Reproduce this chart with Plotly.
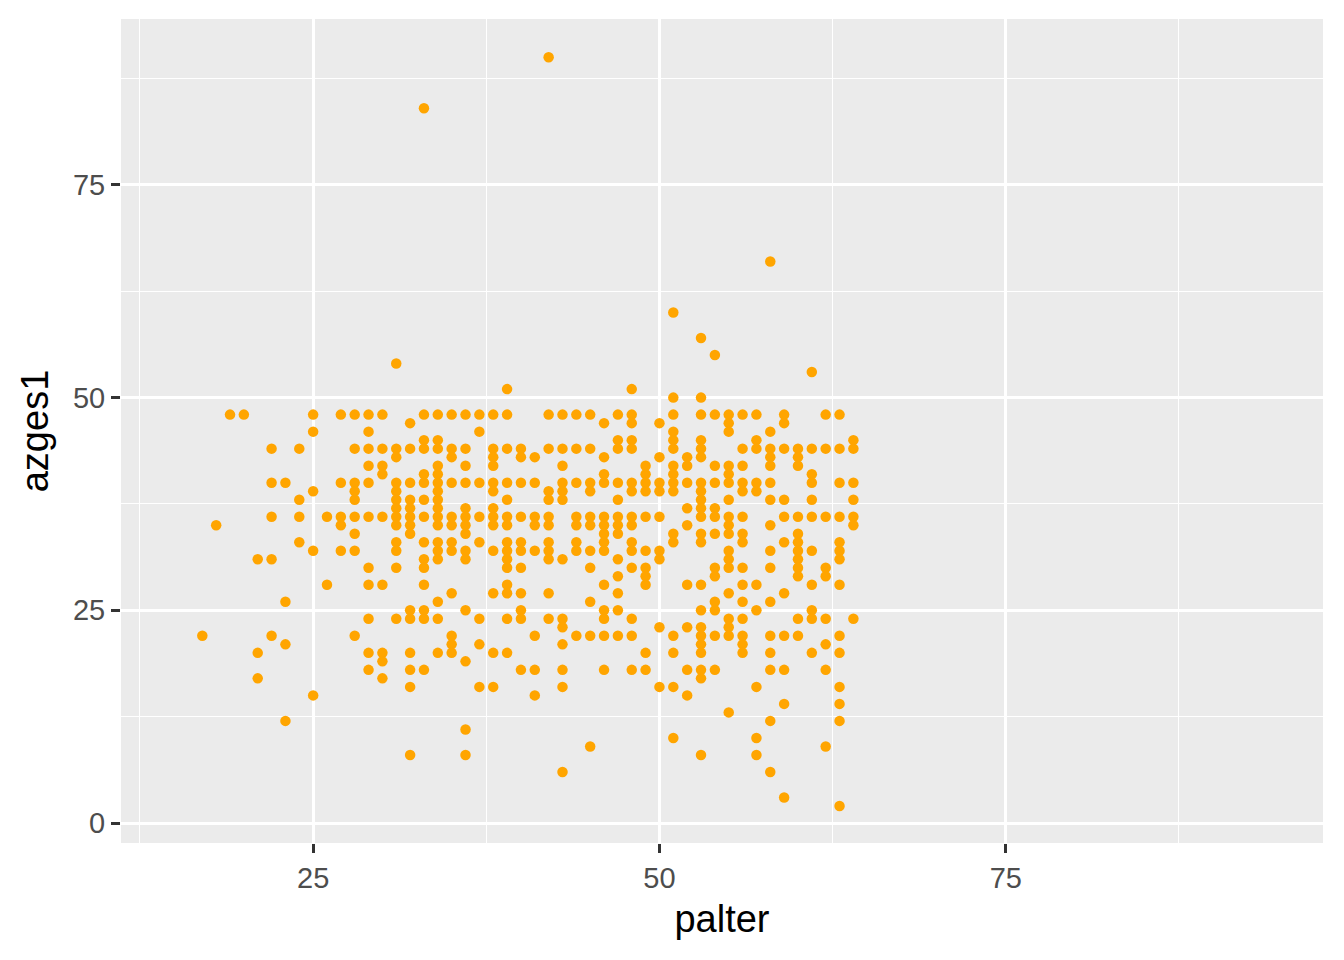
import plotly.graph_objects as go

# palter values observed at each azges1 level
row_90 = [42]
row_84 = [33]
row_66 = [58]
row_60 = [51]
row_57 = [53]
row_55 = [54]
row_54 = [31]
row_53 = [61]
row_51 = [39, 48]
row_50 = [51, 53]
row_48 = [19, 20, 25, 27, 28, 29, 30, 33, 34, 35, 36, 37, 38, 39, 42, 43, 44, 45, 47, 48,
          51, 53, 54, 55, 56, 57, 59, 62, 63]
row_47 = [32, 46, 48, 50, 55, 59]
row_46 = [25, 29, 37, 51, 55, 58]
row_45 = [33, 34, 47, 48, 51, 53, 57, 64]
row_44 = [22, 24, 28, 29, 30, 31, 32, 33, 34, 35, 36, 38, 39, 40, 42, 43, 44, 45, 47, 48,
          51, 53, 56, 57, 58, 59, 60, 61, 62, 63, 64]
row_43 = [31, 35, 38, 40, 41, 46, 50, 52, 53, 58, 60]
row_42 = [29, 30, 34, 36, 38, 43, 49, 51, 52, 54, 55, 56, 58, 60]
row_41 = [30, 33, 34, 46, 49, 51, 55, 61]
row_40 = [22, 23, 27, 28, 29, 31, 32, 33, 34, 35, 36, 37, 38, 39, 40, 41, 43, 44, 45, 46,
          47, 48, 49, 50, 51, 52, 53, 54, 55, 56, 57, 58, 61, 63, 64]
row_39 = [25, 28, 31, 34, 38, 42, 43, 45, 48, 49, 50, 51, 53, 56, 57]
row_38 = [24, 28, 31, 32, 33, 34, 39, 42, 43, 47, 53, 55, 58, 59, 61, 64]
row_37 = [31, 32, 34, 36, 38, 52, 53, 54]
row_36 = [22, 24, 26, 27, 28, 29, 30, 31, 32, 33, 34, 35, 36, 37, 38, 39, 40, 41, 42, 44,
          45, 46, 47, 48, 49, 50, 53, 54, 55, 56, 59, 60, 61, 62, 63, 64]
row_35 = [18, 27, 31, 32, 34, 35, 36, 38, 39, 41, 42, 44, 45, 46, 47, 48, 52, 55, 58, 64]
row_34 = [28, 32, 36, 46, 47, 51, 53, 54, 55, 56, 60]
row_33 = [24, 31, 33, 34, 35, 37, 39, 40, 42, 44, 46, 48, 51, 53, 56, 59, 60, 63]
row_32 = [25, 27, 28, 31, 34, 35, 36, 38, 39, 40, 41, 42, 44, 45, 46, 48, 49, 50, 55, 58,
          60, 61, 63]
row_31 = [21, 22, 33, 34, 36, 39, 42, 43, 47, 50, 55, 60, 63]
row_30 = [29, 31, 33, 39, 40, 45, 48, 49, 54, 55, 56, 58, 60, 62]
row_29 = [47, 49, 54, 60, 62]
row_28 = [26, 29, 30, 33, 39, 46, 49, 52, 53, 56, 57, 61, 63]
row_27 = [35, 38, 39, 40, 42, 47, 55, 59]
row_26 = [23, 34, 45, 54, 56, 58]
row_25 = [32, 33, 36, 40, 46, 47, 53, 54, 57, 61]
row_24 = [29, 31, 32, 33, 34, 37, 39, 40, 42, 43, 46, 48, 55, 56, 60, 61, 62, 64]
row_23 = [43, 50, 52, 53, 55]
row_22 = [17, 22, 28, 35, 41, 44, 45, 46, 47, 48, 51, 53, 54, 55, 56, 58, 59, 60, 63]
row_21 = [23, 35, 37, 43, 53, 56, 62]
row_20 = [21, 29, 30, 32, 34, 35, 38, 39, 49, 51, 53, 56, 58, 61, 63]
row_19 = [30, 36]
row_18 = [29, 32, 33, 40, 41, 43, 46, 48, 49, 52, 53, 54, 58, 59, 62]
row_17 = [21, 30, 53]
row_16 = [32, 37, 38, 43, 50, 51, 57, 63]
row_15 = [25, 41, 52]
row_14 = [59, 63]
row_13 = [55]
row_12 = [23, 58, 63]
row_11 = [36]
row_10 = [51, 57]
row_9 = [45, 62]
row_8 = [32, 36, 53, 57]
row_6 = [43, 58]
row_3 = [59]
row_2 = [63]

levels = {90: row_90, 84: row_84, 66: row_66, 60: row_60, 57: row_57, 55: row_55,
          54: row_54, 53: row_53, 51: row_51, 50: row_50, 48: row_48, 47: row_47,
          46: row_46, 45: row_45, 44: row_44, 43: row_43, 42: row_42, 41: row_41,
          40: row_40, 39: row_39, 38: row_38, 37: row_37, 36: row_36, 35: row_35,
          34: row_34, 33: row_33, 32: row_32, 31: row_31, 30: row_30, 29: row_29,
          28: row_28, 27: row_27, 26: row_26, 25: row_25, 24: row_24, 23: row_23,
          22: row_22, 21: row_21, 20: row_20, 19: row_19, 18: row_18, 17: row_17,
          16: row_16, 15: row_15, 14: row_14, 13: row_13, 12: row_12, 11: row_11,
          10: row_10, 9: row_9, 8: row_8, 6: row_6, 3: row_3, 2: row_2}

palter = []
azges1 = []
for yv, xs in levels.items():
    for xv in xs:
        palter.append(xv)
        azges1.append(yv)

x_ticks = [25, 50, 75]
y_ticks = [0, 25, 50, 75]
minor_ticks = [12.5, 37.5, 62.5, 87.5]

fig = go.Figure()
fig.add_trace(go.Scatter(
    x=palter, y=azges1, mode="markers",
    marker=dict(color="#FFA500", size=10.5, line=dict(width=0)),
    showlegend=False, hoverinfo="x+y",
))

font_family = "Liberation Sans, Arial, sans-serif"
fig.update_layout(
    width=1344, height=960,
    margin=dict(l=113, r=29, t=11, b=125),
    paper_bgcolor="white", plot_bgcolor="#EBEBEB",
    font=dict(family=font_family),
)
common = dict(
    showgrid=True, gridcolor="white", gridwidth=2.7, zeroline=False, showline=False,
    ticks="outside", ticklen=9, tickwidth=2.7, tickcolor="#333333",
    tickfont=dict(size=29, color="#4D4D4D", family=font_family),
    minor=dict(tickvals=minor_ticks, showgrid=True, gridcolor="white",
               gridwidth=1.3, ticks=""),
    automargin=False,
)
fig.update_xaxes(
    range=[11.13, 97.9], tickvals=x_ticks, ticktext=[str(v) for v in x_ticks],
    title=dict(text="palter", font=dict(size=38, color="black", family=font_family),
               standoff=12),
    **common,
)
fig.update_yaxes(
    range=[-2.35, 94.5], tickvals=y_ticks, ticktext=[str(v) for v in y_ticks],
    title=dict(text="azges1", font=dict(size=38, color="black", family=font_family),
               standoff=12),
    **common,
)

fig.write_html("out.html")
